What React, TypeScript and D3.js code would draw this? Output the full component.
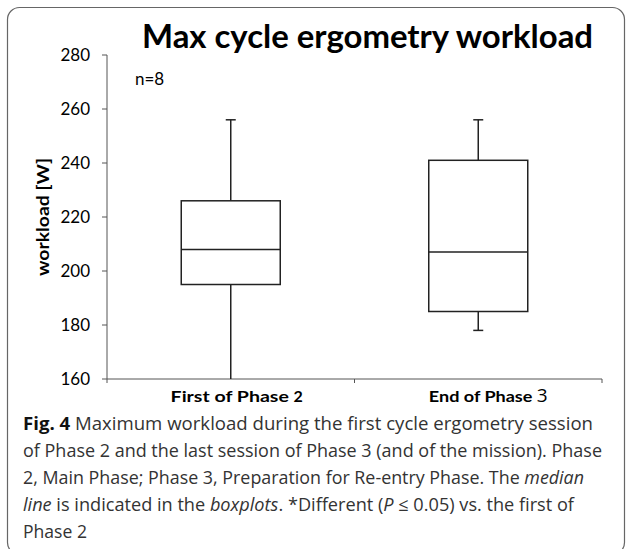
import { useEffect } from 'react';
import * as d3 from 'd3';

// box plot values (W)
const categories = ['First of Phase 2', 'End of Phase 3'];
const whiskerHigh = [256, 256];
const upperQuartile = [226, 241];
const medians = [208, 207];
const lowerQuartile = [195, 185];
const whiskerLow = [160, 178];
const yTicks = [160, 180, 200, 220, 240, 260, 280];

const chartFont = 'Lato, "Open Sans", sans-serif';
const captionFont = '"Open Sans", "Noto Sans", sans-serif';

function App() {
  useEffect(() => {
    document.body.style.margin = '0';
  }, []);

  const width = 626;
  const height = 549;
  const left = 107;
  const right = 602;
  const top = 55;
  const bottom = 379;

  const y = d3.scaleLinear().domain([160, 280]).range([bottom, top]);
  const x = d3.scaleBand().domain(categories).range([left, right]);
  const boxW = x.bandwidth() * 0.4;
  const capW = 10;

  const boxes = categories.map((c, i) => ({
    cat: c,
    cx: x(c)! + x.bandwidth() / 2,
    hi: whiskerHigh[i],
    q3: upperQuartile[i],
    med: medians[i],
    q1: lowerQuartile[i],
    lo: whiskerLow[i],
  }));

  const bandEdges = [...categories.map(c => x(c)!), right];
  // label tweaks: Excel put the labels slightly right of the band centre
  const labelShift = [6, 10];
  const labelLen = [123, 108];

  return (
    <svg width={width} height={height} style={{ display: 'block' }}>
      <rect x={7.5} y={7.5} width={617} height={547} rx={12} fill="none" stroke="#666" strokeWidth={1.2} />

      <text x={142} y={48} fontFamily={chartFont} fontWeight="bold" fontSize={32}
        textLength={451} lengthAdjust="spacingAndGlyphs" fill="#000">
        Max cycle ergometry workload
      </text>

      <text x={135} y={85} fontFamily={chartFont} fontSize={17} fill="#000">n=8</text>

      {/* y axis */}
      <line x1={left} x2={left} y1={top} y2={bottom} stroke="#555" strokeWidth={1} />
      {yTicks.map(t => (
        <g key={t}>
          <line x1={left - 5} x2={left} y1={y(t)} y2={y(t)} stroke="#555" />
          <text x={90} y={y(t)} dy="0.36em" textAnchor="end" fontFamily={chartFont} fontSize={17} fill="#000">{t}</text>
        </g>
      ))}
      <text transform={`translate(49,${(top + bottom) / 2}) rotate(-90)`} textAnchor="middle"
        fontFamily={chartFont} fontWeight="bold" fontSize={17} textLength={118} lengthAdjust="spacingAndGlyphs" fill="#000">
        workload [W]
      </text>

      {/* x axis */}
      <line x1={left} x2={right} y1={bottom} y2={bottom} stroke="#555" strokeWidth={1} />
      {bandEdges.map((e, i) => (
        <line key={i} x1={e} x2={e} y1={bottom} y2={bottom + 4} stroke="#555" />
      ))}
      {categories.map((c, i) => {
        const cx = x(c)! + x.bandwidth() / 2 + labelShift[i];
        const last = c.slice(-1);
        const head = c.slice(0, -1);
        return (
          <text key={c} x={cx} y={bottom + 23} textAnchor="middle" fontFamily={chartFont} fill="#000">
            <tspan fontWeight="bold" fontSize={16} textLength={labelLen[i]} lengthAdjust="spacingAndGlyphs">{head}</tspan>
            {i === 1
              ? <tspan fontFamily={captionFont} fontSize={19}>{last}</tspan>
              : <tspan fontWeight="bold" fontSize={16}>{last}</tspan>}
          </text>
        );
      })}

      {/* boxes */}
      {boxes.map(b => (
        <g key={b.cat} stroke="#222" strokeWidth={1.5} fill="none">
          <line x1={b.cx} x2={b.cx} y1={y(b.hi)} y2={y(b.q3)} />
          <line x1={b.cx} x2={b.cx} y1={y(b.q1)} y2={y(b.lo)} />
          <line x1={b.cx - capW / 2} x2={b.cx + capW / 2} y1={y(b.hi)} y2={y(b.hi)} />
          {b.lo > 160 && <line x1={b.cx - capW / 2} x2={b.cx + capW / 2} y1={y(b.lo)} y2={y(b.lo)} />}
          <rect x={b.cx - boxW / 2} y={y(b.q3)} width={boxW} height={y(b.q1) - y(b.q3)} fill="#fff" />
          <line x1={b.cx - boxW / 2} x2={b.cx + boxW / 2} y1={y(b.med)} y2={y(b.med)} />
        </g>
      ))}

      {/* caption */}
      <g fontFamily={captionFont} fontSize={18} fill="#333">
        <text x={23} y={430} textLength={570} lengthAdjust="spacingAndGlyphs">
          <tspan fontWeight="bold" fill="#111">Fig. 4</tspan>  Maximum workload during the first cycle ergometry session
        </text>
        <text x={23} y={457} textLength={579} lengthAdjust="spacingAndGlyphs">
          of Phase 2 and the last session of Phase 3 (and of the mission). Phase
        </text>
        <text x={23} y={484} textLength={561} lengthAdjust="spacingAndGlyphs">
          2, Main Phase; Phase 3, Preparation for Re-entry Phase. The <tspan fontStyle="italic">median</tspan>
        </text>
        <text x={23} y={511} textLength={551} lengthAdjust="spacingAndGlyphs">
          <tspan fontStyle="italic">line</tspan> is indicated in the <tspan fontStyle="italic">boxplots</tspan>. *Different (<tspan fontStyle="italic">P</tspan> ≤ 0.05) vs. the first of
        </text>
        <text x={23} y={538} textLength={64} lengthAdjust="spacingAndGlyphs">Phase 2</text>
      </g>
    </svg>
  );
}

export default App;
